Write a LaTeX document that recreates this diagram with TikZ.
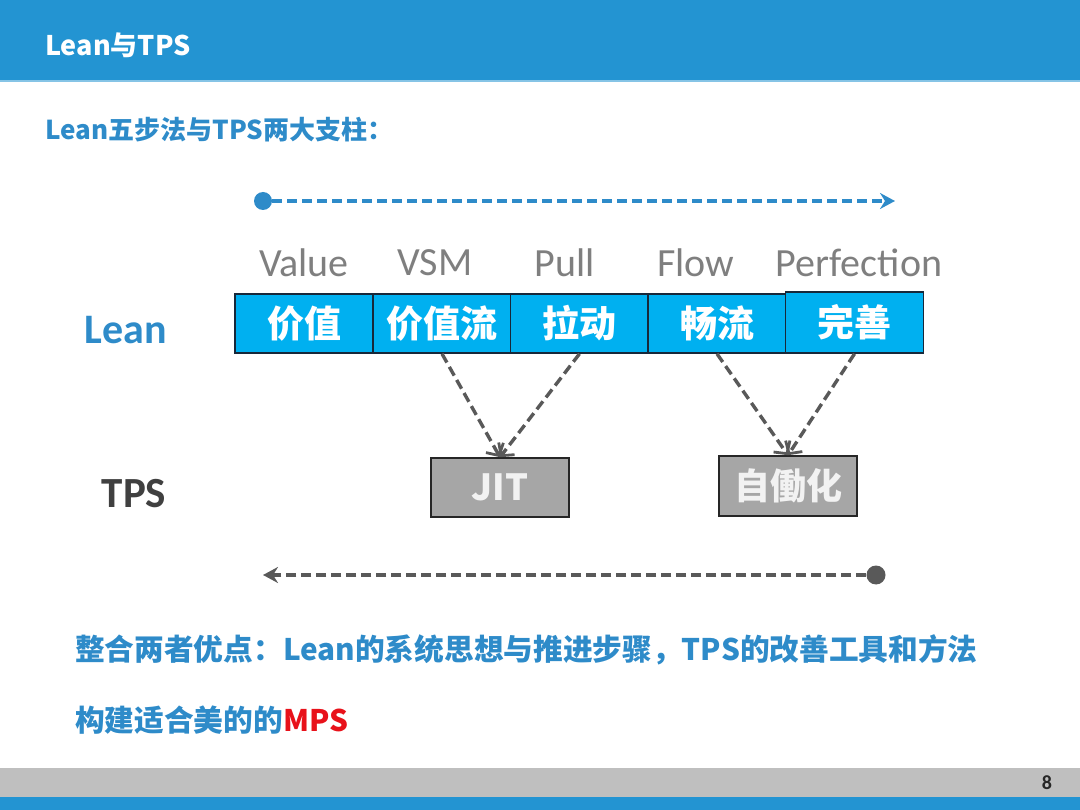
\documentclass[tikz,border=0pt]{standalone}
\usepackage{fontspec}
\setmainfont{Carlito}
\newfontfamily\cjk{Noto Sans CJK SC}
\usetikzlibrary{arrows.meta}
\definecolor{topblue}{HTML}{2394D2}
\definecolor{txtblue}{HTML}{2E8BC9}
\definecolor{cyanbox}{HTML}{00B0F0}
\definecolor{boxline}{HTML}{17283A}
\definecolor{graybox}{HTML}{A6A6A6}
\definecolor{darkg}{HTML}{595959}
\definecolor{lblgray}{HTML}{7F7F7F}
\definecolor{footgray}{HTML}{BFBFBF}
\definecolor{mpsred}{HTML}{E8111A}
\definecolor{tpsgray}{HTML}{404040}
\begin{document}
\begin{tikzpicture}[x=1pt,y=-1pt,
  leanbox/.style={draw=boxline,line width=1.6pt,fill=cyanbox,minimum width=138pt,minimum height=59pt,inner sep=0pt,text=white,font=\cjk\bfseries\fontsize{37}{37}\selectfont},
  tpsbox/.style={draw=black!85,line width=1.6pt,fill=graybox,minimum width=138pt,minimum height=59pt,inner sep=0pt,text=white!95!black,font=\cjk\bfseries\fontsize{36}{36}\selectfont},
  eng/.style={inner sep=0pt,text=lblgray,font=\fontsize{40}{40}\selectfont},
  cjktext/.style={anchor=west,inner sep=0pt,font=\cjk\bfseries\fontsize{#1}{#1}\selectfont},
  link/.style={draw=darkg,line width=3.4pt,dash pattern=on 10pt off 5pt,-{Straight Barb[length=9pt,width=20pt,line width=2.8pt]}},
  timeline/.style={line width=3.5pt,dash pattern=on 10pt off 5pt},
  dot/.style={circle,inner sep=0pt,minimum size=18pt}
]
\useasboundingbox (0,0) rectangle (1080,810);
% header and footer bands
\fill[topblue] (0,0) rectangle (1080,80);
\fill[topblue!55!white] (0,80) rectangle (1080,82);
\fill[footgray] (0,768) rectangle (1080,797);
\fill[topblue] (0,797) rectangle (1080,810);

\node[cjktext=27,text=white] (title) at (45,45) {Lean与TPS};
\node[cjktext=26,text=txtblue] (sub) at (45,130) {Lean五步法与TPS两大支柱：};

% top timeline
\node[dot,fill=txtblue] (ts) at (263,201) {};
\coordinate (te) at (895,201);
\draw[timeline,draw=txtblue,-{Stealth[length=15pt,width=16pt,inset=5pt]}] (ts) -- (te);

% english labels
\node[eng] (e1) at (304,263) {Value};
\node[eng] (e2) at (435,263) {VSM};
\node[eng] (e3) at (565,263) {Pull};
\node[eng] (e4) at (696,263) {Flow};
\node[eng] (e5) at (859,263) {Perfection};

% row labels
\node[inner sep=0pt,text=txtblue,font=\bfseries\fontsize{42}{42}\selectfont] (lean) at (126,330) {Lean};
\node[inner sep=0pt,text=tpsgray,font=\bfseries\fontsize{43}{43}\selectfont] (tps) at (134,494) {TPS};

% lean boxes
\node[leanbox] (b1) at (304,323.5) {价值};
\node[leanbox] (b2) at (442,323.5) {价值流};
\node[leanbox] (b3) at (579.5,323.5) {拉动};
\node[leanbox] (b4) at (717,323.5) {畅流};
\node[leanbox,minimum height=61pt] (b5) at (854.5,322.5) {完善};

% tps boxes
\node[tpsbox] (jit) at (500,487.5) {JIT};
\node[tpsbox,minimum height=60pt] (jid) at (788,486) {自働化};

% links
\draw[link] (b2.south) -- (jit.north);
\draw[link] (b3.south) -- (jit.north);
\draw[link] (b4.south) -- (jid.north);
\draw[link] (b5.south) -- (jid.north);

% bottom timeline
\node[dot,fill=darkg,minimum size=19pt] (bs) at (876,575) {};
\coordinate (be) at (263,575);
\draw[timeline,draw=darkg,line width=3.2pt,-{Stealth[length=15pt,width=16pt,inset=5pt]}] (bs) -- (be);

% conclusion text
\node[cjktext=29.7,text=txtblue] (l1) at (75,650) {整合两者优点：Lean的系统思想与推进步骤，TPS的改善工具和方法};
\node[cjktext=29.7,text=txtblue] (l2) at (75,720) {构建适合美的的\textcolor{mpsred}{MPS}};

\node[inner sep=0pt,text=black!85,font=\bfseries\fontsize{20}{20}\selectfont] (pg) at (1047,783) {8};
\end{tikzpicture}
\end{document}
